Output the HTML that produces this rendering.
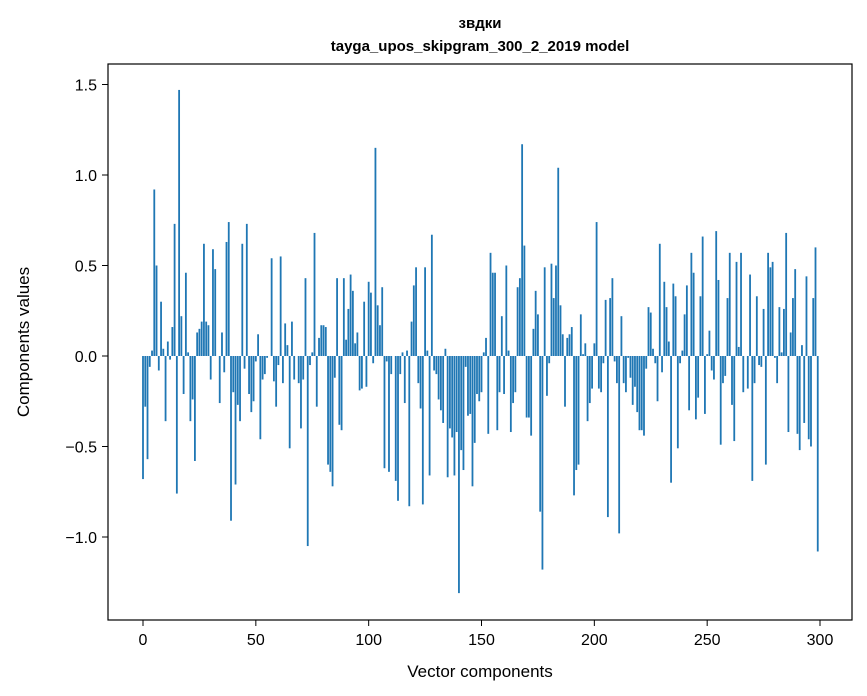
<!DOCTYPE html>
<html><head><meta charset="utf-8"><style>
html,body{margin:0;padding:0;background:#fff}
svg{display:block;font-family:"Liberation Sans","DejaVu Sans",sans-serif}
</style></head><body>
<svg id="chart" width="867" height="696" viewBox="0 0 867 696" xmlns="http://www.w3.org/2000/svg">
<rect x="0" y="0" width="867" height="696" fill="#fff"/>
<text x="480" y="28" text-anchor="middle" font-size="15" font-weight="bold">звдки</text>
<text x="480" y="51" text-anchor="middle" font-size="15" font-weight="bold">tayga_upos_skipgram_300_2_2019 model</text>
<g id="bars"></g>
<g id="xticks"></g>
<g id="yticks"></g>
<rect x="108" y="64" width="744" height="556" fill="none" stroke="#000" stroke-width="1.2"/>
<text x="480" y="677" text-anchor="middle" font-size="17">Vector components</text>
<text transform="translate(29,342) rotate(-90)" text-anchor="middle" font-size="17">Components values</text>
</svg>
<script>
const values = [-0.68,-0.28,-0.57,-0.06,0.03,0.92,0.50,-0.08,0.30,0.04,-0.36,0.08,-0.02,0.16,0.73,-0.76,1.47,0.22,-0.21,0.46,
0.02,-0.36,-0.24,-0.58,0.13,0.15,0.19,0.62,0.19,0.17,-0.13,0.59,0.48,0.0,-0.26,0.13,-0.09,0.63,0.74,-0.91,
-0.20,-0.71,-0.27,-0.36,0.62,-0.07,0.73,-0.21,-0.31,-0.25,-0.03,0.12,-0.46,-0.13,-0.10,-0.01,0.0,0.54,-0.14,-0.28,
-0.05,0.55,-0.15,0.18,0.06,-0.51,0.19,-0.13,0.0,-0.15,-0.40,-0.13,0.43,-1.05,-0.05,0.02,0.68,-0.28,0.10,0.17,
0.17,0.16,-0.60,-0.64,-0.72,-0.12,0.43,-0.38,-0.41,0.43,0.09,0.26,0.45,0.36,0.07,0.13,-0.19,-0.18,0.30,-0.17,
0.41,0.35,-0.04,1.15,0.28,0.17,0.38,-0.62,-0.03,-0.64,-0.10,0.0,-0.69,-0.80,-0.10,0.02,-0.26,0.03,-0.83,0.19,
0.39,0.49,-0.15,-0.29,-0.82,0.49,0.03,-0.66,0.67,-0.08,-0.10,-0.24,-0.30,-0.37,0.04,-0.67,-0.40,-0.45,-0.66,-0.42,
-1.31,-0.52,-0.63,-0.06,-0.33,-0.32,-0.72,-0.48,-0.21,-0.25,-0.20,0.02,0.10,-0.43,0.57,0.46,0.46,-0.41,-0.20,0.22,
-0.21,0.50,0.03,-0.42,-0.26,-0.20,0.38,0.43,1.17,0.61,-0.34,-0.34,-0.44,0.15,0.36,0.23,-0.86,-1.18,0.49,-0.22,
-0.04,0.51,0.32,0.50,1.04,0.28,0.12,-0.28,0.10,0.12,0.16,-0.77,-0.63,-0.60,0.23,0.01,0.07,-0.36,-0.26,-0.18,
0.07,0.74,-0.18,-0.20,-0.04,0.31,-0.89,0.32,0.43,-0.03,-0.15,-0.98,0.22,-0.15,-0.20,-0.01,-0.12,-0.27,-0.17,-0.31,
-0.41,-0.41,-0.44,-0.07,0.27,0.24,0.04,-0.04,-0.25,0.62,-0.09,0.41,0.27,0.08,-0.70,0.40,0.33,-0.51,-0.04,0.03,
0.23,0.39,-0.30,0.57,0.46,-0.35,-0.23,0.33,0.66,-0.32,0.01,0.14,-0.08,-0.13,0.69,0.42,-0.49,-0.15,-0.11,0.32,
0.57,-0.27,-0.47,0.52,0.05,0.57,-0.20,0.0,-0.18,0.45,-0.69,-0.15,0.33,-0.05,-0.06,0.26,-0.60,0.57,0.49,0.52,
-0.01,-0.15,0.27,0.02,0.26,0.68,-0.42,0.13,0.32,0.48,-0.43,-0.52,0.06,-0.37,0.44,-0.46,-0.50,0.32,0.60,-1.08];
const xTicks = [0,50,100,150,200,250,300];
const yTicks = [-1.0,-0.5,0.0,0.5,1.0,1.5];
const yTickLabels = ["\u22121.0","\u22120.5","0.0","0.5","1.0","1.5"];

const NS = "http://www.w3.org/2000/svg";
function xs(v){ return 143 + v * 2.2567; }
function ys(v){ return 356 - v * 181; }
const bars = document.getElementById('bars');
values.forEach((v,i)=>{
  const r = document.createElementNS(NS,'rect');
  
  
  const x0 = xs(i - 0.4), x1 = xs(i + 0.4);
  const y0 = ys(Math.max(v,0)), y1 = ys(Math.min(v,0));
  r.setAttribute('x', x0);
  r.setAttribute('width', x1 - x0);
  r.setAttribute('y', y0);
  r.setAttribute('height', Math.max(y1 - y0, 0.01));
  r.setAttribute('fill', '#1f77b4');
  bars.appendChild(r);
});
const xg = document.getElementById('xticks');
xTicks.forEach(t=>{
  const l = document.createElementNS(NS,'line');
  
  
  l.setAttribute('x1', xs(t)); l.setAttribute('x2', xs(t));
  l.setAttribute('y1', 620); l.setAttribute('y2', 626);
  l.setAttribute('stroke', '#000');
  xg.appendChild(l);
  const tx = document.createElementNS(NS,'text');
  
  
  tx.setAttribute('x', xs(t)); tx.setAttribute('y', 645);
  tx.setAttribute('text-anchor', 'middle');
  tx.setAttribute('font-size', '16');
  tx.textContent = String(t);
  xg.appendChild(tx);
});
const yg = document.getElementById('yticks');
yTicks.forEach((t,i)=>{
  const l = document.createElementNS(NS,'line');
  
  
  l.setAttribute('x1', 102); l.setAttribute('x2', 108);
  l.setAttribute('y1', ys(t)); l.setAttribute('y2', ys(t));
  l.setAttribute('stroke', '#000');
  yg.appendChild(l);
  const tx = document.createElementNS(NS,'text');
  
  
  tx.setAttribute('x', 97); tx.setAttribute('y', ys(t) + 6);
  tx.setAttribute('text-anchor', 'end');
  tx.setAttribute('font-size', '16');
  tx.textContent = yTickLabels[i];
  yg.appendChild(tx);
});
</script>
</body></html>
